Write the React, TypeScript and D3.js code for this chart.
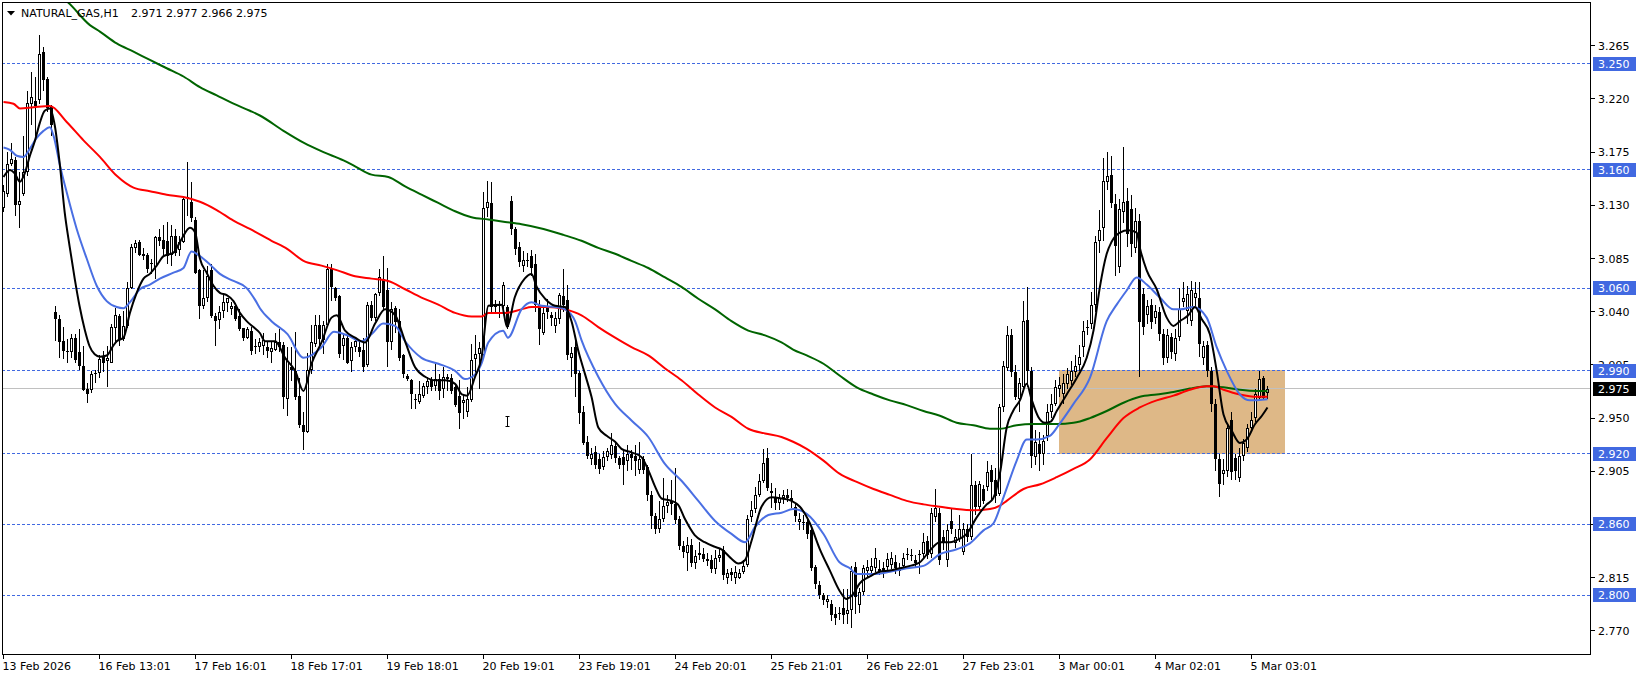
import React from 'react';
import * as d3 from 'd3';

type Bar = [number, number, number, number]; // open, high, low, close
type Pt = [number, number]; // bar index, price

// ---- hourly candles, grouped by the 24-bar blocks that start at each time label ----
const block13Feb: Bar[] = [
  [3.128,3.147,3.124,3.142],[3.140,3.175,3.137,3.165],[3.165,3.183,3.163,3.169],[3.168,3.171,3.121,3.130],
  [3.130,3.158,3.111,3.134],[3.140,3.189,3.138,3.158],[3.158,3.227,3.155,3.217],[3.216,3.243,3.198,3.222],
  [3.218,3.239,3.189,3.214],[3.219,3.274,3.216,3.258],[3.260,3.264,3.227,3.236],[3.237,3.239,3.209,3.212],
  [3.213,3.215,3.189,3.198],[3.040,3.045,3.015,3.034],[3.034,3.037,3.001,3.014],[3.015,3.027,3.000,3.007],
  [3.007,3.017,2.997,3.006],[3.006,3.021,3.001,3.018],[3.018,3.021,2.997,2.999],[3.006,3.025,2.991,2.994],
  [2.994,3.011,2.973,2.974],[2.975,2.980,2.963,2.970],[2.974,2.990,2.971,2.987],[2.987,2.991,2.980,2.988],
];
const block16Feb: Bar[] = [
  [2.988,3.003,2.984,3.000],[3.002,3.007,2.989,2.997],[2.998,3.011,2.976,3.001],[2.997,3.030,2.997,3.027],
  [3.026,3.043,3.014,3.037],[3.036,3.038,3.011,3.016],[3.017,3.041,3.015,3.028],[3.028,3.065,3.026,3.060],
  [3.060,3.097,3.059,3.095],[3.094,3.101,3.090,3.098],[3.099,3.101,3.087,3.088],[3.089,3.094,3.084,3.087],
  [3.088,3.090,3.073,3.076],[3.080,3.085,3.072,3.081],[3.078,3.104,3.068,3.103],[3.103,3.110,3.096,3.100],
  [3.101,3.113,3.087,3.093],[3.100,3.116,3.080,3.087],[3.088,3.113,3.079,3.104],[3.104,3.110,3.087,3.090],
  [3.092,3.104,3.087,3.099],[3.099,3.138,3.098,3.135],[3.136,3.167,3.121,3.137],[3.133,3.150,3.116,3.119],
];
const block17Feb: Bar[] = [
  [3.118,3.120,3.072,3.073],[3.075,3.076,3.034,3.045],[3.045,3.075,3.042,3.052],[3.052,3.079,3.048,3.070],
  [3.075,3.080,3.035,3.036],[3.036,3.039,3.011,3.032],[3.033,3.045,3.025,3.040],[3.041,3.056,3.035,3.048],
  [3.047,3.052,3.040,3.052],[3.042,3.048,3.037,3.045],[3.045,3.047,3.032,3.034],[3.036,3.042,3.024,3.025],
  [3.026,3.026,3.015,3.018],[3.018,3.027,3.017,3.025],[3.024,3.027,3.003,3.007],[3.010,3.017,3.004,3.011],
  [3.010,3.018,3.006,3.014],[3.011,3.022,3.003,3.016],[3.010,3.014,3.001,3.007],[3.006,3.014,2.997,3.009],
  [3.008,3.022,3.007,3.014],[3.014,3.025,3.006,3.010],[3.012,3.014,2.958,2.968],[2.966,3.010,2.952,2.998],
];
const block18Feb: Bar[] = [
  [2.993,3.010,2.981,2.991],[2.990,3.023,2.965,2.968],[2.969,2.984,2.942,2.944],[2.944,2.955,2.923,2.938],
  [2.938,3.005,2.937,2.991],[2.991,3.029,2.987,3.014],[3.013,3.037,3.010,3.029],[3.029,3.037,3.008,3.017],
  [3.016,3.032,3.004,3.029],[3.029,3.080,3.027,3.076],[3.076,3.080,3.049,3.061],[3.060,3.061,3.049,3.052],
  [3.053,3.054,3.001,3.004],[3.011,3.021,2.999,3.018],[3.018,3.020,2.996,2.997],[2.998,3.014,2.989,3.010],
  [3.010,3.019,3.006,3.015],[3.010,3.014,3.002,3.006],[3.008,3.018,2.989,2.993],[2.995,3.048,2.993,3.046],
  [3.046,3.049,3.032,3.035],[3.035,3.056,3.032,3.055],[3.056,3.076,3.053,3.069],[3.068,3.087,3.042,3.044],
];
const block19Feb: Bar[] = [
  [3.058,3.077,2.993,3.014],[3.014,3.048,3.008,3.042],[3.043,3.045,3.022,3.031],[3.032,3.042,2.998,3.001],
  [3.003,3.004,2.984,2.987],[2.986,2.987,2.981,2.983],[2.982,2.983,2.958,2.970],[2.966,2.970,2.958,2.966],
  [2.964,2.981,2.962,2.970],[2.969,2.980,2.967,2.977],[2.976,2.985,2.970,2.981],[2.982,2.985,2.973,2.976],
  [2.977,2.996,2.973,2.983],[2.983,2.987,2.965,2.973],[2.975,2.993,2.967,2.985],[2.985,2.987,2.973,2.983],
  [2.984,2.987,2.970,2.973],[2.976,2.978,2.959,2.961],[2.969,2.982,2.941,2.954],[2.963,2.970,2.949,2.965],
  [2.955,2.976,2.951,2.966],[2.965,3.013,2.964,2.999],[3.000,3.020,2.985,3.004],[3.004,3.014,2.975,3.009],
];
const block20Feb: Bar[] = [
  [3.003,3.141,3.000,3.128],[3.128,3.151,3.120,3.133],[3.132,3.150,3.040,3.044],[3.044,3.050,3.040,3.046],
  [3.046,3.049,3.035,3.045],[3.045,3.065,3.042,3.063],[3.044,3.046,3.025,3.027],[3.134,3.138,3.105,3.110],
  [3.110,3.112,3.088,3.093],[3.095,3.099,3.078,3.082],[3.079,3.091,3.074,3.084],[3.084,3.090,3.078,3.083],
  [3.087,3.092,3.070,3.077],[3.080,3.089,3.040,3.046],[3.046,3.050,3.012,3.025],[3.022,3.043,3.020,3.039],
  [3.045,3.051,3.034,3.040],[3.037,3.040,3.028,3.035],[3.028,3.040,3.022,3.035],[3.034,3.056,3.030,3.054],
  [3.053,3.076,3.040,3.046],[3.050,3.063,2.999,3.003],[3.001,3.010,2.985,3.005],[3.010,3.015,2.968,2.987],
];
const block23Feb: Bar[] = [
  [2.988,2.990,2.945,2.954],[2.955,2.960,2.927,2.929],[2.930,2.935,2.915,2.918],[2.915,2.925,2.910,2.920],
  [2.921,2.926,2.907,2.910],[2.915,2.920,2.903,2.907],[2.909,2.922,2.906,2.917],[2.917,2.925,2.914,2.922],
  [2.919,2.937,2.915,2.927],[2.926,2.931,2.912,2.916],[2.916,2.918,2.907,2.910],[2.917,2.922,2.893,2.910],
  [2.914,2.927,2.905,2.920],[2.920,2.923,2.906,2.916],[2.918,2.927,2.901,2.914],[2.906,2.930,2.903,2.915],
  [2.915,2.918,2.903,2.906],[2.909,2.910,2.880,2.885],[2.885,2.888,2.856,2.867],[2.867,2.870,2.852,2.856],
  [2.856,2.880,2.853,2.865],[2.865,2.899,2.862,2.876],[2.876,2.885,2.870,2.879],[2.880,2.898,2.868,2.877],
];
const block24Feb: Bar[] = [
  [2.877,2.908,2.860,2.864],[2.865,2.867,2.838,2.842],[2.842,2.846,2.832,2.837],[2.836,2.849,2.821,2.843],
  [2.843,2.848,2.824,2.827],[2.827,2.838,2.822,2.833],[2.834,2.845,2.830,2.836],[2.835,2.840,2.828,2.831],
  [2.831,2.836,2.825,2.829],[2.830,2.834,2.819,2.822],[2.822,2.838,2.818,2.832],[2.832,2.840,2.828,2.834],
  [2.838,2.842,2.813,2.817],[2.815,2.822,2.810,2.819],[2.820,2.823,2.812,2.817],[2.815,2.825,2.810,2.820],
  [2.815,2.822,2.814,2.819],[2.820,2.830,2.818,2.825],[2.826,2.868,2.824,2.865],[2.866,2.880,2.862,2.872],
  [2.873,2.892,2.870,2.885],[2.885,2.903,2.883,2.897],[2.897,2.924,2.895,2.912],[2.916,2.925,2.888,2.891],
];
const block25Feb: Bar[] = [
  [2.887,2.895,2.874,2.888],[2.883,2.891,2.872,2.878],[2.878,2.886,2.872,2.882],[2.882,2.889,2.877,2.885],
  [2.885,2.890,2.879,2.882],[2.882,2.889,2.874,2.880],[2.875,2.878,2.862,2.867],[2.862,2.870,2.855,2.865],
  [2.861,2.868,2.855,2.862],[2.862,2.866,2.848,2.852],[2.855,2.858,2.821,2.823],[2.824,2.826,2.805,2.810],
  [2.809,2.812,2.797,2.800],[2.800,2.802,2.792,2.796],[2.794,2.800,2.789,2.797],[2.793,2.796,2.778,2.783],
  [2.784,2.790,2.775,2.781],[2.785,2.790,2.779,2.784],[2.789,2.805,2.776,2.783],[2.784,2.805,2.776,2.788],
  [2.788,2.825,2.772,2.821],[2.824,2.828,2.784,2.799],[2.792,2.806,2.785,2.803],[2.803,2.826,2.800,2.823],
];
const block26Feb: Bar[] = [
  [2.821,2.830,2.815,2.824],[2.821,2.832,2.818,2.825],[2.823,2.840,2.820,2.832],[2.822,2.830,2.817,2.821],
  [2.823,2.828,2.815,2.820],[2.824,2.836,2.821,2.831],[2.826,2.837,2.822,2.832],[2.828,2.834,2.818,2.823],
  [2.822,2.827,2.816,2.821],[2.825,2.836,2.822,2.832],[2.834,2.840,2.830,2.835],[2.834,2.839,2.829,2.833],
  [2.830,2.834,2.824,2.827],[2.834,2.838,2.818,2.835],[2.835,2.853,2.832,2.845],[2.846,2.850,2.831,2.834],
  [2.835,2.874,2.832,2.870],[2.866,2.890,2.862,2.874],[2.870,2.874,2.826,2.830],[2.849,2.855,2.838,2.844],
  [2.830,2.860,2.824,2.855],[2.863,2.873,2.852,2.856],[2.844,2.856,2.840,2.849],[2.848,2.868,2.845,2.856],
];
const block27Feb: Bar[] = [
  [2.837,2.861,2.834,2.856],[2.856,2.860,2.845,2.849],[2.849,2.920,2.847,2.893],[2.893,2.897,2.868,2.875],
  [2.875,2.897,2.872,2.894],[2.890,2.893,2.877,2.880],[2.892,2.914,2.888,2.904],[2.906,2.910,2.880,2.896],
  [2.898,2.908,2.878,2.884],[2.886,2.962,2.884,2.959],[2.959,2.998,2.955,2.994],[2.992,3.028,2.990,3.020],
  [3.020,3.025,2.985,2.989],[2.989,2.995,2.965,2.968],[2.966,2.984,2.955,2.980],[2.976,3.049,2.972,3.032],
  [3.033,3.061,2.976,2.990],[2.990,2.993,2.908,2.918],[2.917,2.940,2.910,2.930],[2.928,2.938,2.905,2.920],
  [2.920,2.936,2.910,2.931],[2.935,2.962,2.931,2.955],[2.955,2.970,2.950,2.962],[2.962,2.982,2.960,2.976],
];
const block3Mar: Bar[] = [
  [2.975,2.985,2.968,2.978],[2.970,2.987,2.962,2.980],[2.979,2.992,2.975,2.987],[2.981,2.998,2.978,2.990],
  [2.989,3.003,2.985,2.994],[2.995,3.012,2.990,3.002],[3.010,3.032,3.002,3.024],[3.026,3.033,3.020,3.027],
  [3.030,3.057,3.025,3.046],[3.046,3.104,3.040,3.099],[3.100,3.126,3.090,3.109],[3.111,3.170,3.100,3.151],
  [3.150,3.175,3.143,3.155],[3.156,3.172,3.128,3.132],[3.131,3.140,3.070,3.096],[3.078,3.135,3.073,3.127],
  [3.124,3.179,3.115,3.133],[3.134,3.145,3.095,3.106],[3.127,3.139,3.086,3.097],[3.094,3.128,3.090,3.117],
  [3.117,3.123,2.985,3.031],[3.055,3.060,3.020,3.027],[3.037,3.050,3.030,3.045],[3.046,3.051,3.025,3.031],
];
const block4Mar: Bar[] = [
  [3.035,3.046,3.030,3.041],[3.040,3.044,3.015,3.021],[3.021,3.025,2.995,3.001],[3.001,3.025,2.997,3.020],
  [3.019,3.022,3.000,3.006],[3.004,3.025,2.998,3.018],[3.019,3.060,3.015,3.042],[3.048,3.065,3.044,3.052],
  [3.041,3.062,3.030,3.055],[3.032,3.066,3.028,3.058],[3.052,3.065,3.045,3.056],[3.052,3.065,3.002,3.013],
  [3.001,3.015,2.995,3.011],[3.012,3.015,2.985,2.990],[2.990,2.993,2.955,2.962],[2.962,2.966,2.905,2.915],
  [2.915,2.920,2.883,2.894],[2.903,2.915,2.893,2.906],[2.905,2.946,2.900,2.942],[2.948,2.955,2.898,2.904],
  [2.916,2.920,2.898,2.905],[2.899,2.925,2.896,2.918],[2.918,2.932,2.914,2.929],[2.925,2.945,2.921,2.942],
];
const block5Mar: Bar[] = [
  [2.942,2.955,2.940,2.948],[2.950,2.975,2.947,2.970],[2.967,2.990,2.965,2.983],[2.984,2.986,2.965,2.967],
  [2.971,2.977,2.966,2.975],
];

// ---- moving averages, read at sample bars ----
const maBlack: Pt[] = [
  [0,3.154],[1.6,3.160],[2.8,3.157],[4.1,3.150],[5.3,3.157],[6.6,3.172],[7.8,3.184],[9.1,3.200],[10.3,3.210],
  [11.6,3.212],[12.8,3.198],[14.1,3.164],[15.3,3.124],[16.5,3.096],[17.8,3.068],[19,3.045],[20.3,3.025],
  [21.5,3.011],[22.8,3.004],[24.1,3.002],[25.8,3.003],[27.4,3.011],[28.3,3.015],[30,3.018],[31.6,3.039],
  [33.3,3.056],[35,3.068],[36.6,3.072],[38.3,3.079],[40,3.087],[42.5,3.090],[44.6,3.102],[46.6,3.111],
  [47.9,3.107],[49.1,3.085],[50.8,3.073],[52.5,3.062],[54.1,3.056],[55.8,3.054],[57.5,3.049],[59.1,3.039],
  [60.8,3.032],[62.5,3.027],[64.1,3.022],[65.4,3.015],[67.9,3.015],[70.4,3.001],[72.9,2.990],[75,2.973],
  [77,2.996],[79.5,3.014],[82,3.035],[83.3,3.037],[85.4,3.024],[87.9,3.018],[90.4,3.014],[92.9,3.030],
  [95.4,3.042],[97.9,3.037],[100.4,3.015],[102.9,2.993],[105.4,2.985],[107.9,2.982],[110.4,2.982],
  [112.9,2.979],[114.6,2.970],[115.9,2.969],[117.9,2.985],[119.5,3.001],[121.2,3.045],[124.5,3.046],
  [125.9,3.027],[127.8,3.052],[130.3,3.068],[132,3.072],[133.3,3.061],[135.4,3.051],[137.9,3.045],
  [140.4,3.044],[142,3.032],[143.7,3.007],[145.4,2.987],[147,2.968],[148.7,2.942],[150.8,2.935],
  [152.9,2.930],[154.5,2.924],[157,2.921],[159.5,2.917],[161.2,2.906],[162.9,2.892],[164.5,2.882],
  [167,2.880],[168.6,2.877],[170.3,2.865],[172.8,2.851],[175.3,2.845],[177.9,2.841],[179.5,2.839],
  [182,2.831],[183.7,2.827],[185.4,2.830],[187,2.846],[189.5,2.875],[192,2.883],[194.5,2.882],[197,2.880],
  [199.1,2.875],[201.6,2.861],[204.1,2.839],[206.6,2.821],[209,2.804],[210.7,2.797],[212.4,2.801],
  [214,2.810],[216.6,2.816],[219,2.820],[221.6,2.821],[224.1,2.823],[226.6,2.825],[229.1,2.828],
  [231.6,2.838],[234.1,2.845],[236.6,2.845],[239.1,2.848],[240.8,2.852],[243.3,2.866],[245.8,2.877],
  [247.4,2.882],[249.1,2.903],[250.8,2.942],[252.4,2.956],[254.1,2.965],[255.8,2.979],[257,2.966],
  [258.7,2.951],[260.4,2.946],[261.8,2.947],[263.3,2.956],[265.8,2.970],[268.3,2.984],[270.8,3.001],
  [272.5,3.024],[274.1,3.061],[275.8,3.089],[277,3.099],[279.1,3.107],[281.2,3.109],[283.3,3.107],
  [284.1,3.094],[285.8,3.075],[288.3,3.059],[290.8,3.035],[292.5,3.028],[294.1,3.032],[296.2,3.037],
  [297.9,3.044],[299.5,3.034],[301.6,3.021],[303.3,2.990],[305,2.953],[307.1,2.939],[309.1,2.929],
  [310.8,2.932],[312.9,2.945],[314.6,2.952],[316,2.959],
];
const maBlue: Pt[] = [
  [0,3.179],[1.6,3.177],[3.3,3.172],[5,3.171],[6.6,3.178],[8.3,3.187],[10,3.193],[11.6,3.196],[12.5,3.189],
  [14.1,3.164],[15.8,3.141],[18.3,3.110],[20.8,3.085],[23.3,3.062],[25.8,3.049],[28.3,3.044],[30,3.043],
  [31.6,3.048],[34.1,3.059],[36.6,3.063],[39.1,3.068],[42.5,3.073],[45,3.077],[47,3.091],[49.1,3.087],
  [51.6,3.080],[54.1,3.072],[57.5,3.066],[60.8,3.060],[62.9,3.050],[64.1,3.043],[67,3.032],[71,3.021],
  [75,3.001],[79.5,3.010],[82.6,3.023],[86,3.020],[89.5,3.015],[92,3.021],[94.9,3.030],[97.9,3.028],
  [100.4,3.015],[104.5,3.001],[108.7,2.996],[112.9,2.990],[115.4,2.983],[117.9,2.987],[119.5,2.996],
  [121.2,3.014],[124.9,3.024],[126.1,3.018],[129.5,3.042],[132,3.048],[134.5,3.045],[137.9,3.044],
  [140.4,3.042],[142.9,3.032],[144.5,3.016],[148.7,2.985],[152.9,2.962],[157,2.948],[161.2,2.934],
  [165.4,2.911],[169.5,2.897],[173.7,2.880],[177.9,2.863],[182,2.852],[185.4,2.845],[187.9,2.858],
  [191.2,2.868],[194.5,2.870],[197.4,2.873],[200.8,2.869],[205,2.852],[209,2.828],[211.6,2.823],
  [213.3,2.818],[217.5,2.818],[221.6,2.820],[225.8,2.823],[230,2.825],[234.1,2.835],[238.3,2.839],
  [241.6,2.844],[245,2.855],[247.5,2.861],[250,2.883],[253.3,2.914],[255.8,2.932],[258.3,2.932],
  [261.6,2.935],[264,2.945],[267.5,2.962],[271.6,2.984],[275.8,3.032],[278.3,3.046],[280.8,3.058],
  [283.3,3.069],[285.8,3.063],[289.1,3.052],[292.5,3.042],[294.1,3.042],[297.5,3.044],[300.8,3.035],
  [303.3,3.010],[305.8,2.990],[309.1,2.970],[311.6,2.965],[316,2.966],
];
const maRed: Pt[] = [
  [0,3.2175],[2.5,3.216],[4.1,3.212],[7.5,3.213],[11.6,3.214],[15.8,3.2005],[20,3.185],[24.1,3.171],
  [28.3,3.155],[32.5,3.145],[36.6,3.142],[40.8,3.139],[45,3.137],[49.1,3.133],[53.3,3.126],[57.5,3.117],
  [61.6,3.110],[67,3.100],[71,3.093],[75,3.083],[79.5,3.079],[83.5,3.075],[87.9,3.070],[92,3.068],
  [96.2,3.066],[100.4,3.059],[104.5,3.052],[108.7,3.046],[112.9,3.039],[117,3.036],[119.5,3.036],
  [121.2,3.039],[125.4,3.039],[129.5,3.042],[132,3.044],[136,3.044],[140.4,3.042],[144.5,3.037],
  [148.7,3.027],[152.9,3.018],[157,3.010],[161.2,3.003],[165.4,2.992],[169.5,2.982],[173.7,2.970],
  [177.9,2.959],[182,2.951],[186.2,2.941],[190.4,2.937],[194.5,2.934],[197.4,2.930],[200.8,2.924],
  [205,2.914],[209,2.903],[213.3,2.896],[217.5,2.890],[221.6,2.885],[225.8,2.880],[230,2.877],
  [234.1,2.875],[238.3,2.873],[242.5,2.872],[246.6,2.873],[249.1,2.876],[250.8,2.880],[255,2.890],
  [259.2,2.894],[263.3,2.900],[267.5,2.907],[271.6,2.915],[275.8,2.933],[280,2.950],[284.1,2.959],
  [288.3,2.965],[292.5,2.969],[296.6,2.974],[300.8,2.977],[302.5,2.977],[305,2.974],[309.1,2.970],
  [313.3,2.968],[316,2.968],
];
const maGreen: Pt[] = [
  [0,3.330],[8,3.316],[16,3.302],[21.6,3.2825],[24.1,3.277],[28.3,3.267],[32.5,3.260],[36.6,3.253],
  [40.8,3.246],[45,3.239],[49.1,3.230],[53.3,3.223],[57.5,3.216],[61.6,3.210],[64.1,3.206],[70,3.193],
  [75,3.183],[80,3.175],[85,3.168],[87.9,3.163],[92,3.156],[96.2,3.154],[100.4,3.146],[104.5,3.139],
  [108.7,3.132],[112.9,3.125],[117,3.120],[121.2,3.118],[125.4,3.116],[129.5,3.114],[135,3.110],
  [140,3.105],[144.5,3.100],[148.7,3.094],[152.9,3.089],[157,3.083],[161.2,3.077],[165.4,3.069],
  [169.5,3.061],[173.7,3.051],[177.9,3.042],[182,3.032],[186.2,3.024],[190.4,3.020],[194.5,3.014],
  [197.4,3.008],[200.8,3.003],[205,2.996],[209,2.986],[213.3,2.976],[217.5,2.970],[221.6,2.965],
  [225.8,2.961],[230,2.956],[234.1,2.952],[238.3,2.946],[242.5,2.944],[246.6,2.941],[249.1,2.941],
  [253.3,2.944],[257.5,2.945],[263.3,2.945],[267.5,2.946],[271.6,2.950],[275.8,2.956],[280,2.963],
  [284.1,2.968],[288.3,2.970],[292.5,2.972],[296.6,2.975],[300.8,2.977],[305,2.976],[309.1,2.974],
  [313.3,2.973],[316,2.973],
];

// ---- axes, levels, objects ----
const timeTickBars = [0, 24, 48, 72, 96, 120, 144, 168, 192, 216, 240, 264, 288, 312];
const timeTickLabels = ['13 Feb 2026','16 Feb 13:01','17 Feb 16:01','18 Feb 17:01','19 Feb 18:01','20 Feb 19:01',
  '23 Feb 19:01','24 Feb 20:01','25 Feb 21:01','26 Feb 22:01','27 Feb 23:01','3 Mar 00:01','4 Mar 02:01','5 Mar 03:01'];
const priceTicks = [3.265, 3.220, 3.175, 3.130, 3.085, 3.040, 2.995, 2.950, 2.905, 2.860, 2.815, 2.770];
const levelPrices = [3.250, 3.160, 3.060, 2.990, 2.920, 2.860, 2.800];
const lastPrice = 2.975;
const zoneBars = [263.9, 320.4];
const zonePrices = [2.990, 2.920];
const headerSymbol = 'NATURAL_GAS,H1';
const headerOHLC = [2.971, 2.977, 2.966, 2.975];

const W = 1641, H = 679;
const PL = 2, PT = 2, PR = 1591, PB = 655;
const FONT = "'DejaVu Sans', Verdana, sans-serif";
const LEVEL_BLUE = '#4169E1';

export default function App() {
  const bars: Bar[] = [
    ...block13Feb, ...block16Feb, ...block17Feb, ...block18Feb, ...block19Feb, ...block20Feb, ...block23Feb,
    ...block24Feb, ...block25Feb, ...block26Feb, ...block27Feb, ...block3Mar, ...block4Mar, ...block5Mar,
  ];
  const x = d3.scaleLinear().domain([0, 1]).range([3.5, 7.5]);
  const y = d3.scaleLinear().domain([2.75, 3.25]).range([654.5, 63.5]);
  const line = d3.line<Pt>().x(d => x(d[0])).y(d => y(d[1])).curve(d3.curveMonotoneX);
  const rowY = (p: number) => Math.floor(y(p)) + 0.5;

  const maStyles: [Pt[], string][] = [
    [maGreen, '#006400'], [maRed, '#FF0000'], [maBlue, '#4A6FE3'], [maBlack, '#000000'],
  ];

  return (
    <div style={{ width: W, height: H, background: '#fff' }}>
      <style>{'body{margin:0;background:#fff}'}</style>
      <svg width={W} height={H} style={{ display: 'block' }} fontFamily={FONT} fontSize={11}>
        <defs>
          <clipPath id="plot">
            <rect x={PL} y={PT} width={PR - PL} height={PB - PT} />
          </clipPath>
        </defs>
        <rect x={0} y={0} width={W} height={H} fill="#fff" />

        <g clipPath="url(#plot)">
          {/* zone rectangle */}
          <rect
            x={Math.round(x(zoneBars[0]))}
            y={Math.floor(y(zonePrices[0]))}
            width={Math.round(x(zoneBars[1])) - Math.round(x(zoneBars[0]))}
            height={Math.floor(y(zonePrices[1])) - Math.floor(y(zonePrices[0])) + 1}
            fill="#DEB887"
          />
          {/* level lines */}
          {levelPrices.map(p => (
            <line key={p} x1={PL} x2={PR} y1={rowY(p)} y2={rowY(p)} stroke={LEVEL_BLUE} strokeWidth={1} strokeDasharray="3,2" />
          ))}
          <line x1={PL} x2={PR} y1={rowY(lastPrice)} y2={rowY(lastPrice)} stroke="#C0C0C0" strokeWidth={1} />

          {/* candles */}
          {bars.map((b, i) => {
            const [o, h, l, c] = b;
            const cx = x(i);
            const yh = Math.round(y(h));
            const yl = Math.round(y(l));
            const top = Math.round(y(Math.max(o, c)));
            const bot = Math.round(y(Math.min(o, c)));
            const bull = c >= o;
            return (
              <g key={i}>
                <line x1={cx} x2={cx} y1={yh} y2={Math.max(yl, yh + 1)} stroke="#000" strokeWidth={1} />
                {bull ? (
                  bot - top >= 2 ? (
                    <rect x={cx - 1} y={top + 0.5} width={2} height={bot - top - 1} fill="#fff" stroke="#000" strokeWidth={1} />
                  ) : (
                    <rect x={cx - 1.5} y={top} width={3} height={Math.max(1, bot - top)} fill="#000" />
                  )
                ) : (
                  <rect x={cx - 1.5} y={top} width={3} height={Math.max(1, bot - top)} fill="#000" />
                )}
              </g>
            );
          })}

          {/* moving averages */}
          {maStyles.map(([pts, color], k) => (
            <path key={k} d={line(pts) || ''} fill="none" stroke={color} strokeWidth={2} strokeLinejoin="round" />
          ))}

          {/* text cursor mark */}
          <path d="M505.5,416.5h4M507.5,416.5v10M505.5,426.5h4" stroke="#000" strokeWidth={1} fill="none" />
        </g>

        {/* frame */}
        <rect x={PL + 0.5} y={PT + 0.5} width={PR - PL - 1} height={PB - PT - 1} fill="none" stroke="#000" strokeWidth={1} />

        {/* header */}
        <path d="M7,11 L15,11 L11,15.5 Z" fill="#000" />
        <text x={21} y={17} fill="#000">{headerSymbol}</text>
        <text x={131} y={17} fill="#000">{headerOHLC.map(v => v.toFixed(3)).join(' ')}</text>

        {/* price axis */}
        {priceTicks.map(p => (
          <g key={p}>
            <line x1={PR} x2={PR + 4} y1={rowY(p)} y2={rowY(p)} stroke="#000" />
            <text x={PR + 7} y={y(p) + 4} fill="#000">{p.toFixed(3)}</text>
          </g>
        ))}
        {levelPrices.map(p => (
          <g key={'l' + p}>
            <rect x={PR + 2} y={Math.round(y(p)) - 7} width={43} height={14} fill={LEVEL_BLUE} />
            <text x={PR + 7} y={y(p) + 4} fill="#fff">{p.toFixed(3)}</text>
          </g>
        ))}
        <rect x={PR + 2} y={Math.round(y(lastPrice)) - 7} width={43} height={14} fill="#000" />
        <text x={PR + 7} y={y(lastPrice) + 4} fill="#fff">{lastPrice.toFixed(3)}</text>

        {/* time axis */}
        {timeTickBars.map((bi, k) => (
          <g key={bi}>
            <line x1={x(bi)} x2={x(bi)} y1={PB} y2={PB + 4} stroke="#000" />
            <text x={x(bi) - 1} y={670} fill="#000">{timeTickLabels[k]}</text>
          </g>
        ))}
      </svg>
    </div>
  );
}
